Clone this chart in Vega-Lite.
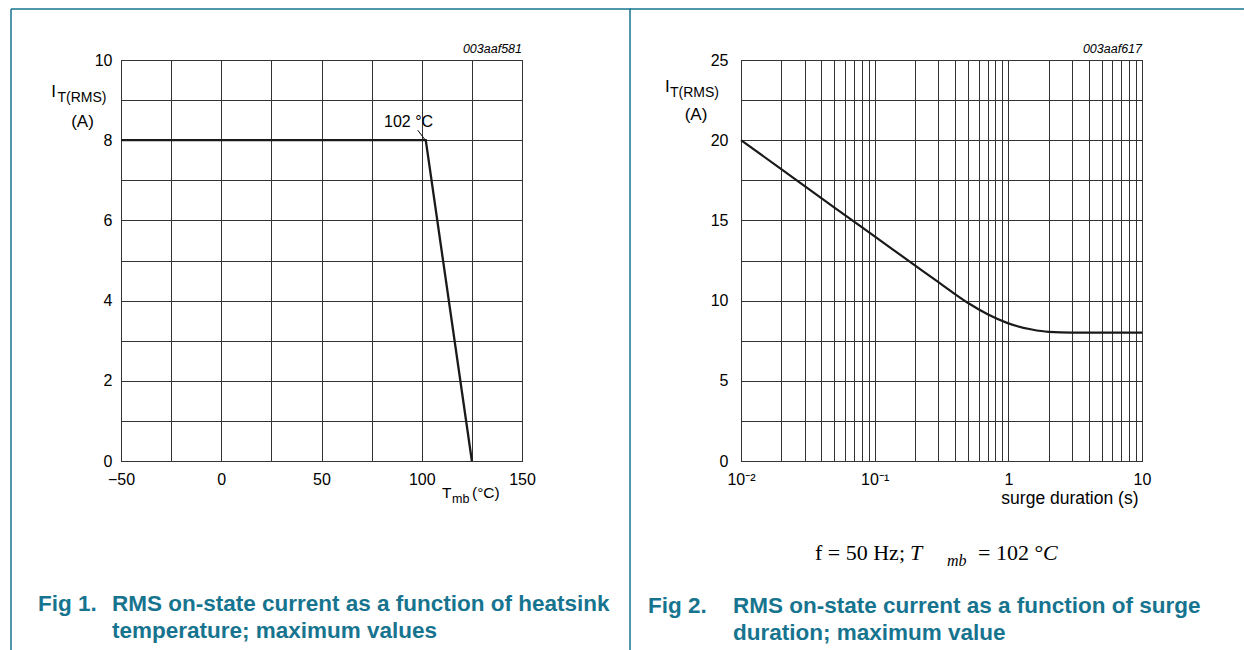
{
  "$schema": "https://vega.github.io/schema/vega-lite/v6.json",
  "background": "white",
  "padding": {"left": 9, "top": 7, "right": 0, "bottom": 0},
  "spacing": -5,
  "config": {
    "view": {"stroke": "#000", "strokeWidth": 1},
    "axis": {"gridColor": "#333", "gridOpacity": 1, "gridWidth": 1, "labelFont": "Liberation Sans", "labelFontSize": 16, "labelColor": "#000", "domain": false, "ticks": false, "labelFlush": false, "labelOverlap": false, "titleFont": "Liberation Sans", "titleFontWeight": "normal", "titleColor": "#000"},
    "text": {"font": "Liberation Sans", "color": "#000", "align": "left", "baseline": "alphabetic"}
  },
  "hconcat": [
    {
      "width": 401,
      "height": 401,
      "layer": [
        {
          "data": {"values": [{"t": -50, "i": 8}, {"t": 102, "i": 8}, {"t": 125, "i": 0}]},
          "mark": {"type": "line", "color": "#1a1a1a", "strokeWidth": 2.3},
          "encoding": {
            "x": {"field": "t", "type": "quantitative", "scale": {"domain": [-50, 150], "nice": false, "zero": false},
                  "axis": {"title": null, "values": [-50, -25, 0, 25, 50, 75, 100, 125, 150], "labelExpr": "datum.value % 50 === 0 ? datum.label : ''", "labelPadding": 10}},
            "y": {"field": "i", "type": "quantitative", "scale": {"domain": [0, 10], "nice": false, "zero": false},
                  "axis": {"title": null, "values": [0, 1, 2, 3, 4, 5, 6, 7, 8, 9, 10], "labelExpr": "datum.value % 2 === 0 ? datum.label : ''", "labelPadding": 9}}
          }
        },
        {"data": {"values": [{}]}, "mark": {"type": "rule", "color": "#000", "strokeWidth": 1},
         "encoding": {"x": {"datum": 98, "type": "quantitative"}, "y": {"datum": 8.25, "type": "quantitative"}, "x2": {"datum": 101.5}, "y2": {"datum": 8.02}}},
        {"data": {"values": [{}]}, "mark": {"type": "text", "text": "102 °C", "fontSize": 16},
         "encoding": {"x": {"datum": 81.17, "type": "quantitative"}, "y": {"datum": 8.33, "type": "quantitative"}}},
        {"data": {"values": [{}]}, "mark": {"type": "text", "text": "003aaf581", "fontSize": 12.5, "fontStyle": "italic", "align": "right"},
         "encoding": {"x": {"datum": 150, "type": "quantitative"}, "y": {"datum": 10.175, "type": "quantitative"}}},
        {"data": {"values": [{}]}, "mark": {"type": "text", "text": "I", "fontSize": 17},
         "encoding": {"x": {"datum": -84.8, "type": "quantitative"}, "y": {"datum": 9.077, "type": "quantitative"}}},
        {"data": {"values": [{}]}, "mark": {"type": "text", "text": "T(RMS)", "fontSize": 14},
         "encoding": {"x": {"datum": -81.7, "type": "quantitative"}, "y": {"datum": 8.953, "type": "quantitative"}}},
        {"data": {"values": [{}]}, "mark": {"type": "text", "text": "(A)", "fontSize": 17, "align": "center"},
         "encoding": {"x": {"datum": -69.2, "type": "quantitative"}, "y": {"datum": 8.33, "type": "quantitative"}}},
        {"data": {"values": [{}]}, "mark": {"type": "text", "text": "T", "fontSize": 15.5},
         "encoding": {"x": {"datum": 110.1, "type": "quantitative"}, "y": {"datum": -0.923, "type": "quantitative"}}},
        {"data": {"values": [{}]}, "mark": {"type": "text", "text": "mb", "fontSize": 12.5},
         "encoding": {"x": {"datum": 115.09, "type": "quantitative"}, "y": {"datum": -1.047, "type": "quantitative"}}},
        {"data": {"values": [{}]}, "mark": {"type": "text", "text": "(°C)", "fontSize": 15.5},
         "encoding": {"x": {"datum": 125.06, "type": "quantitative"}, "y": {"datum": -0.923, "type": "quantitative"}}},
        {"data": {"values": [{}]}, "mark": {"type": "text", "text": "Fig 1.", "fontSize": 22.5, "fontWeight": "bold", "color": "#17748f"},
         "encoding": {"x": {"datum": -91.4, "type": "quantitative"}, "y": {"datum": -3.741, "type": "quantitative"}}},
        {"data": {"values": [{}]}, "mark": {"type": "text", "text": "RMS on-state current as a function of heatsink", "fontSize": 22.5, "fontWeight": "bold", "color": "#17748f"},
         "encoding": {"x": {"datum": -54.49, "type": "quantitative"}, "y": {"datum": -3.741, "type": "quantitative"}}},
        {"data": {"values": [{}]}, "mark": {"type": "text", "text": "temperature; maximum values", "fontSize": 22.5, "fontWeight": "bold", "color": "#17748f"},
         "encoding": {"x": {"datum": -54.49, "type": "quantitative"}, "y": {"datum": -4.414, "type": "quantitative"}}},
        {"data": {"values": [{}]}, "mark": {"type": "rule", "color": "#17748f", "strokeWidth": 1.5},
         "encoding": {"x": {"datum": -104.86, "type": "quantitative"}, "y": {"datum": 11.272, "type": "quantitative"}, "y2": {"datum": -4.8}}},
        {"data": {"values": [{}]}, "mark": {"type": "rule", "color": "#17748f", "strokeWidth": 1.5},
         "encoding": {"x": {"datum": -104.86, "type": "quantitative"}, "x2": {"datum": 204.36}, "y": {"datum": 11.272, "type": "quantitative"}}}
      ]
    },
    {
      "width": 401,
      "height": 401,
      "layer": [
        {
          "data": {"values": [
            {"d": 0.01, "i": 20}, {"d": 0.02, "i": 18.2}, {"d": 0.05, "i": 15.8}, {"d": 0.1, "i": 14.0},
            {"d": 0.2, "i": 12.2}, {"d": 0.3, "i": 11.15}, {"d": 0.5, "i": 9.85}, {"d": 0.7, "i": 9.15},
            {"d": 1, "i": 8.58}, {"d": 1.5, "i": 8.2}, {"d": 2, "i": 8.05}, {"d": 3, "i": 8.0}, {"d": 10, "i": 8.0}
          ]},
          "mark": {"type": "line", "color": "#1a1a1a", "strokeWidth": 2.2, "interpolate": "monotone"},
          "encoding": {
            "x": {"field": "d", "type": "quantitative", "scale": {"type": "log", "domain": [0.01, 10], "nice": false},
                  "axis": {"title": "surge duration (s)", "titleAlign": "right", "titleX": 397, "titleFontSize": 17.5, "titlePadding": 2,
                           "values": [0.01, 0.02, 0.03, 0.04, 0.05, 0.06, 0.07, 0.08, 0.09, 0.1, 0.2, 0.3, 0.4, 0.5, 0.6, 0.7, 0.8, 0.9, 1, 2, 3, 4, 5, 6, 7, 8, 9, 10],
                           "labelExpr": "datum.value === 0.01 ? '10⁻²' : datum.value === 0.1 ? '10⁻¹' : datum.value === 1 ? '1' : datum.value === 10 ? '10' : ''", "labelPadding": 10}},
            "y": {"field": "i", "type": "quantitative", "scale": {"domain": [0, 25], "nice": false, "zero": false},
                  "axis": {"title": null, "values": [0, 2.5, 5, 7.5, 10, 12.5, 15, 17.5, 20, 22.5, 25], "labelExpr": "datum.value % 5 === 0 ? datum.label : ''", "labelPadding": 13}}
          }
        },
        {"data": {"values": [{}]}, "mark": {"type": "text", "text": "003aaf617", "fontSize": 12.5, "fontStyle": "italic", "align": "right"},
         "encoding": {"x": {"datum": 10, "type": "quantitative"}, "y": {"datum": 25.436, "type": "quantitative"}}},
        {"data": {"values": [{}]}, "mark": {"type": "text", "text": "I", "fontSize": 17},
         "encoding": {"x": {"datum": 0.0027, "type": "quantitative"}, "y": {"datum": 23.005, "type": "quantitative"}}},
        {"data": {"values": [{}]}, "mark": {"type": "text", "text": "T(RMS)", "fontSize": 14},
         "encoding": {"x": {"datum": 0.002943, "type": "quantitative"}, "y": {"datum": 22.69, "type": "quantitative"}}},
        {"data": {"values": [{}]}, "mark": {"type": "text", "text": "(A)", "fontSize": 17, "align": "center"},
         "encoding": {"x": {"datum": 0.004606, "type": "quantitative"}, "y": {"datum": 21.26, "type": "quantitative"}}},
        {"data": {"values": [{}]}, "mark": {"type": "text", "text": "f = 50 Hz;", "fontSize": 22, "font": "Liberation Serif"},
         "encoding": {"x": {"datum": 0.03578, "type": "quantitative"}, "y": {"datum": -6.172, "type": "quantitative"}}},
        {"data": {"values": [{}]}, "mark": {"type": "text", "text": "T", "fontSize": 22, "font": "Liberation Serif", "fontStyle": "italic"},
         "encoding": {"x": {"datum": 0.1838, "type": "quantitative"}, "y": {"datum": -6.172, "type": "quantitative"}}},
        {"data": {"values": [{}]}, "mark": {"type": "text", "text": "mb", "fontSize": 16, "font": "Liberation Serif", "fontStyle": "italic"},
         "encoding": {"x": {"datum": 0.3476, "type": "quantitative"}, "y": {"datum": -6.55, "type": "quantitative"}}},
        {"data": {"values": [{}]}, "mark": {"type": "text", "text": "= 102 °", "fontSize": 22, "font": "Liberation Serif"},
         "encoding": {"x": {"datum": 0.593, "type": "quantitative"}, "y": {"datum": -6.172, "type": "quantitative"}}},
        {"data": {"values": [{}]}, "mark": {"type": "text", "text": "C", "fontSize": 22, "font": "Liberation Serif", "fontStyle": "italic"},
         "encoding": {"x": {"datum": 1.817, "type": "quantitative"}, "y": {"datum": -6.172, "type": "quantitative"}}},
        {"data": {"values": [{}]}, "mark": {"type": "text", "text": "Fig 2.", "fontSize": 22.5, "fontWeight": "bold", "color": "#17748f"},
         "encoding": {"x": {"datum": 0.002014, "type": "quantitative"}, "y": {"datum": -9.476, "type": "quantitative"}}},
        {"data": {"values": [{}]}, "mark": {"type": "text", "text": "RMS on-state current as a function of surge", "fontSize": 22.5, "fontWeight": "bold", "color": "#17748f"},
         "encoding": {"x": {"datum": 0.008712, "type": "quantitative"}, "y": {"datum": -9.476, "type": "quantitative"}}},
        {"data": {"values": [{}]}, "mark": {"type": "text", "text": "duration; maximum value", "fontSize": 22.5, "fontWeight": "bold", "color": "#17748f"},
         "encoding": {"x": {"datum": 0.008712, "type": "quantitative"}, "y": {"datum": -11.16, "type": "quantitative"}}},
        {"data": {"values": [{}]}, "mark": {"type": "rule", "color": "#17748f", "strokeWidth": 1.5},
         "encoding": {"x": {"datum": 0.001478, "type": "quantitative"}, "y": {"datum": 28.18, "type": "quantitative"}, "y2": {"datum": -12.0}}},
        {"data": {"values": [{}]}, "mark": {"type": "rule", "color": "#17748f", "strokeWidth": 1.5},
         "encoding": {"x": {"datum": 0.001478, "type": "quantitative"}, "x2": {"datum": 57.94}, "y": {"datum": 28.18, "type": "quantitative"}}}
      ]
    }
  ]
}
